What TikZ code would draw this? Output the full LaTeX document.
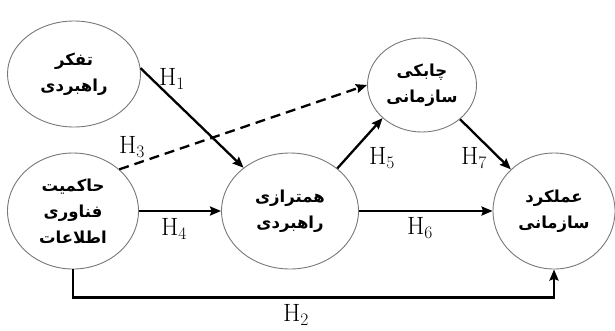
\documentclass[tikz,border=0pt]{standalone}
\usepackage{fontspec}
\newfontfamily\arabicfont[Script=Arabic]{DejaVu Sans}
\TeXXeTstate=1
\usepackage{tikz}
\usetikzlibrary{shapes.geometric, arrows.meta, positioning}
\definecolor{rimgray}{RGB}{120,120,120}
\tikzset{
  varnode/.style={ellipse,draw=rimgray,line width=0.9pt,fill=white,align=center,inner sep=0pt,
                  font=\arabicfont\bfseries\fontsize{16.5}{26}\selectfont},
  arr/.style={-{Stealth[length=11pt,width=9pt,inset=1.5pt]},line width=2.3pt,color=black},
  dasharr/.style={arr,dash pattern=on 10pt off 6pt},
  hlabel/.style={inner sep=0pt,font=\fontsize{25}{27}\selectfont}
}
\newcommand{\hyp}[1]{H\textsubscript{#1}}

\begin{document}
\begin{tikzpicture}[x=1pt,y=-1pt]
  \useasboundingbox (0,0) rectangle (615,330);

  \node[varnode,minimum width=133pt,minimum height=106pt] (tafakor) at (74,74)
      {\beginR تفکر\endR\\\beginR راهبردی\endR};
  \node[varnode,minimum width=131pt,minimum height=116pt] (hakemiyat) at (73,211)
      {\beginR حاکمیت\endR\\\beginR فناوری\endR\\\beginR اطلاعات\endR};
  \node[varnode,minimum width=137pt,minimum height=116pt] (hamtarazi) at (290,211)
      {\beginR همترازی\endR\\\beginR راهبردی\endR};
  \node[varnode,minimum width=109pt,minimum height=94pt] (chaboki) at (422,85)
      {\beginR چابکی\endR\\\beginR سازمانی\endR};
  \node[varnode,minimum width=122pt,minimum height=116pt] (amalkard) at (554,211)
      {\beginR عملکرد\endR\\\beginR سازمانی\endR};

  \node[hlabel] (h1) at (172,79) {\hyp{1}};
  \node[hlabel] (h2) at (296,315) {\hyp{2}};
  \node[hlabel] (h3) at (132,147) {\hyp{3}};
  \node[hlabel] (h4) at (174,229) {\hyp{4}};
  \node[hlabel] (h5) at (382,158) {\hyp{5}};
  \node[hlabel] (h6) at (420,228) {\hyp{6}};
  \node[hlabel] (h7) at (474,158) {\hyp{7}};

  \draw[arr] (tafakor.5) -- (hamtarazi.137);
  \draw[dasharr] (hakemiyat.42) -- (chaboki.180);
  \draw[arr] (hakemiyat.east) -- (hamtarazi.west);
  \draw[arr] (hamtarazi.42) -- (chaboki.-140);
  \draw[arr] (hamtarazi.east) -- (amalkard.west);
  \draw[arr] (chaboki.-42) -- (amalkard.136);
  \draw[arr] (hakemiyat.south) -- ++(0,28) -| (amalkard.south);
\end{tikzpicture}
\end{document}
